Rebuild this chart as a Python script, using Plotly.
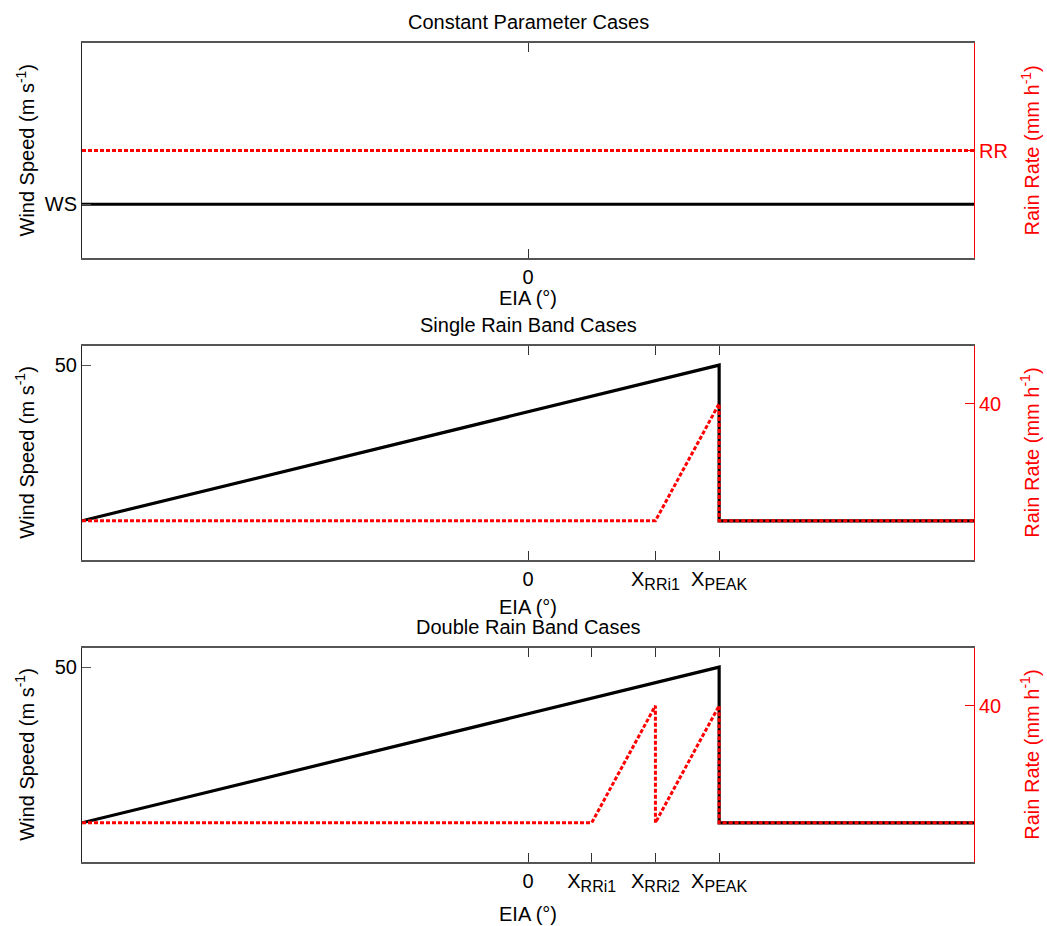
import plotly.graph_objects as go

# Elevation incidence angle range (degrees) shared by all panels
eia_range = [-70, 70]

# Panel 1: constant parameters
eia_const = [-70, 70]
ws_const = [1, 1]
rr_const = [1, 1]

# Panel 2: single rain band
eia_ws_single = [-70, 30, 30, 70]
ws_single = [10, 50, 10, 10]
eia_rr_single = [-70, 20, 30, 30, 70]
rr_single = [0, 0, 40, 0, 0]
xticks_single = [0, 20, 30]
xlabels_single = ["0", "X_RRi1", "X_PEAK"]

# Panel 3: double rain band
eia_ws_double = [-70, 30, 30, 70]
ws_double = [10, 50, 10, 10]
eia_rr_double = [-70, 10, 20, 20, 30, 30, 70]
rr_double = [0, 0, 40, 0, 40, 0, 0]
xticks_double = [0, 10, 20, 30]
xlabels_double = ["0", "X_RRi1", "X_RRi2", "X_PEAK"]

titles = ["Constant Parameter Cases", "Single Rain Band Cases", "Double Rain Band Cases"]

W, H = 1047, 926
FONT = "Liberation Sans, Arial, sans-serif"
RED = "#ff0000"
FS = 20


def subscripted(label):
    """Turn 'X_ABC' into rich text with a subscript."""
    if "_" not in label:
        return label
    base, sub = label.split("_", 1)
    return f"{base}<sub><span style='font-size:16px'>{sub}</span></sub>"


# pixel boxes (left, right, top, bottom) of the three panels
x_left, x_right = 82, 974
panels_px = [(43, 258), (345.7, 559.7), (647.7, 861.7)]


def ydom(top, bottom):
    return [(H - bottom) / H, (H - top) / H]


xdom = [x_left / W, x_right / W]

fig = go.Figure()

series = [
    (eia_const, ws_const, eia_const, rr_const),
    (eia_ws_single, ws_single, eia_rr_single, rr_single),
    (eia_ws_double, ws_double, eia_rr_double, rr_double),
]

for i, (xw, yw, xr, yr) in enumerate(series):
    n = i + 1
    xa = "x" if n == 1 else f"x{n}"
    ya = f"y{2 * n - 1}" if n > 1 else "y"
    yb = f"y{2 * n}"
    fig.add_trace(go.Scatter(x=xw, y=yw, mode="lines", xaxis=xa, yaxis=ya,
                             line=dict(color="black", width=3.2), showlegend=False))
    fig.add_trace(go.Scatter(x=xr, y=yr, mode="lines", xaxis=xa, yaxis=yb,
                             line=dict(color=RED, width=3, dash="4px,2px"), showlegend=False))

tick_font = dict(family=FONT, size=FS, color="black")
axis_line = "#555555"

xticks = [([0], ["0"]), (xticks_single, xlabels_single), (xticks_double, xlabels_double)]
left_ticks = [([1], ["WS"]), ([50], ["50"]), ([50], ["50"])]
right_ticks = [([1], ["RR"]), ([40], ["40"]), ([40], ["40"])]
left_ranges = [[0, 4], [0, 55], [0, 55]]
right_ranges = [[0, 2], [-13.3, 59.8], [-13.3, 59.8]]

layout = {}
for i in range(3):
    n = i + 1
    top, bottom = panels_px[i]
    dom = ydom(top, bottom)
    xkey = "xaxis" if n == 1 else f"xaxis{n}"
    ykey = "yaxis" if n == 1 else f"yaxis{2 * n - 1}"
    y2key = f"yaxis{2 * n}"
    yname = "y" if n == 1 else f"y{2 * n - 1}"
    xname = "x" if n == 1 else f"x{n}"
    layout[xkey] = dict(
        domain=xdom, anchor=yname, range=eia_range,
        tickvals=xticks[i][0], ticktext=[subscripted(t) for t in xticks[i][1]],
        ticks="inside", ticklen=9, tickwidth=1, tickcolor="#333333",
        showline=True, linecolor=axis_line, linewidth=2, mirror="ticks",
        showgrid=False, zeroline=False, tickfont=tick_font,
    )
    layout[ykey] = dict(
        domain=dom, anchor=xname, range=left_ranges[i],
        tickvals=left_ticks[i][0], ticktext=left_ticks[i][1],
        ticks="inside", ticklen=9, tickwidth=1, tickcolor="#555555",
        showline=True, linecolor="#222222", linewidth=1, mirror=False,
        showgrid=False, zeroline=False, tickfont=tick_font,
    )
    layout[y2key] = dict(
        overlaying=yname, side="right", anchor=xname, range=right_ranges[i],
        tickvals=right_ticks[i][0], ticktext=right_ticks[i][1],
        ticks="inside", ticklen=9, tickwidth=1, tickcolor=RED,
        showline=True, linecolor=RED, linewidth=1,
        showgrid=False, zeroline=False,
        tickfont=dict(family=FONT, size=FS, color=RED),
    )

annotations = []
title_y = [22, 325, 627]
xlabel_y = [298, 607, 914]
cx = (x_left + x_right) / 2 / W
for i in range(3):
    top, bottom = panels_px[i]
    mid = 1 - (top + bottom) / 2 / H
    annotations.append(dict(text=titles[i], x=cx, y=1 - title_y[i] / H, xref="paper", yref="paper",
                            showarrow=False, xanchor="center", yanchor="middle",
                            font=dict(family=FONT, size=FS, color="black")))
    annotations.append(dict(text="EIA (°)", x=cx, y=1 - xlabel_y[i] / H, xref="paper", yref="paper",
                            showarrow=False, xanchor="center", yanchor="middle",
                            font=dict(family=FONT, size=FS, color="black")))
    annotations.append(dict(text="Wind Speed (m s<sup>-1</sup>)", x=25 / W, y=mid,
                            xref="paper", yref="paper", showarrow=False, textangle=-90,
                            xanchor="center", yanchor="middle",
                            font=dict(family=FONT, size=FS, color="black")))
    annotations.append(dict(text="Rain Rate (mm h<sup>-1</sup>)", x=1030 / W, y=mid,
                            xref="paper", yref="paper", showarrow=False, textangle=-90,
                            xanchor="center", yanchor="middle",
                            font=dict(family=FONT, size=FS, color=RED)))

fig.update_layout(
    width=W, height=H,
    margin=dict(l=0, r=0, t=0, b=0),
    paper_bgcolor="white", plot_bgcolor="white",
    showlegend=False,
    annotations=annotations,
    **layout,
)

fig.write_html("out.html")
